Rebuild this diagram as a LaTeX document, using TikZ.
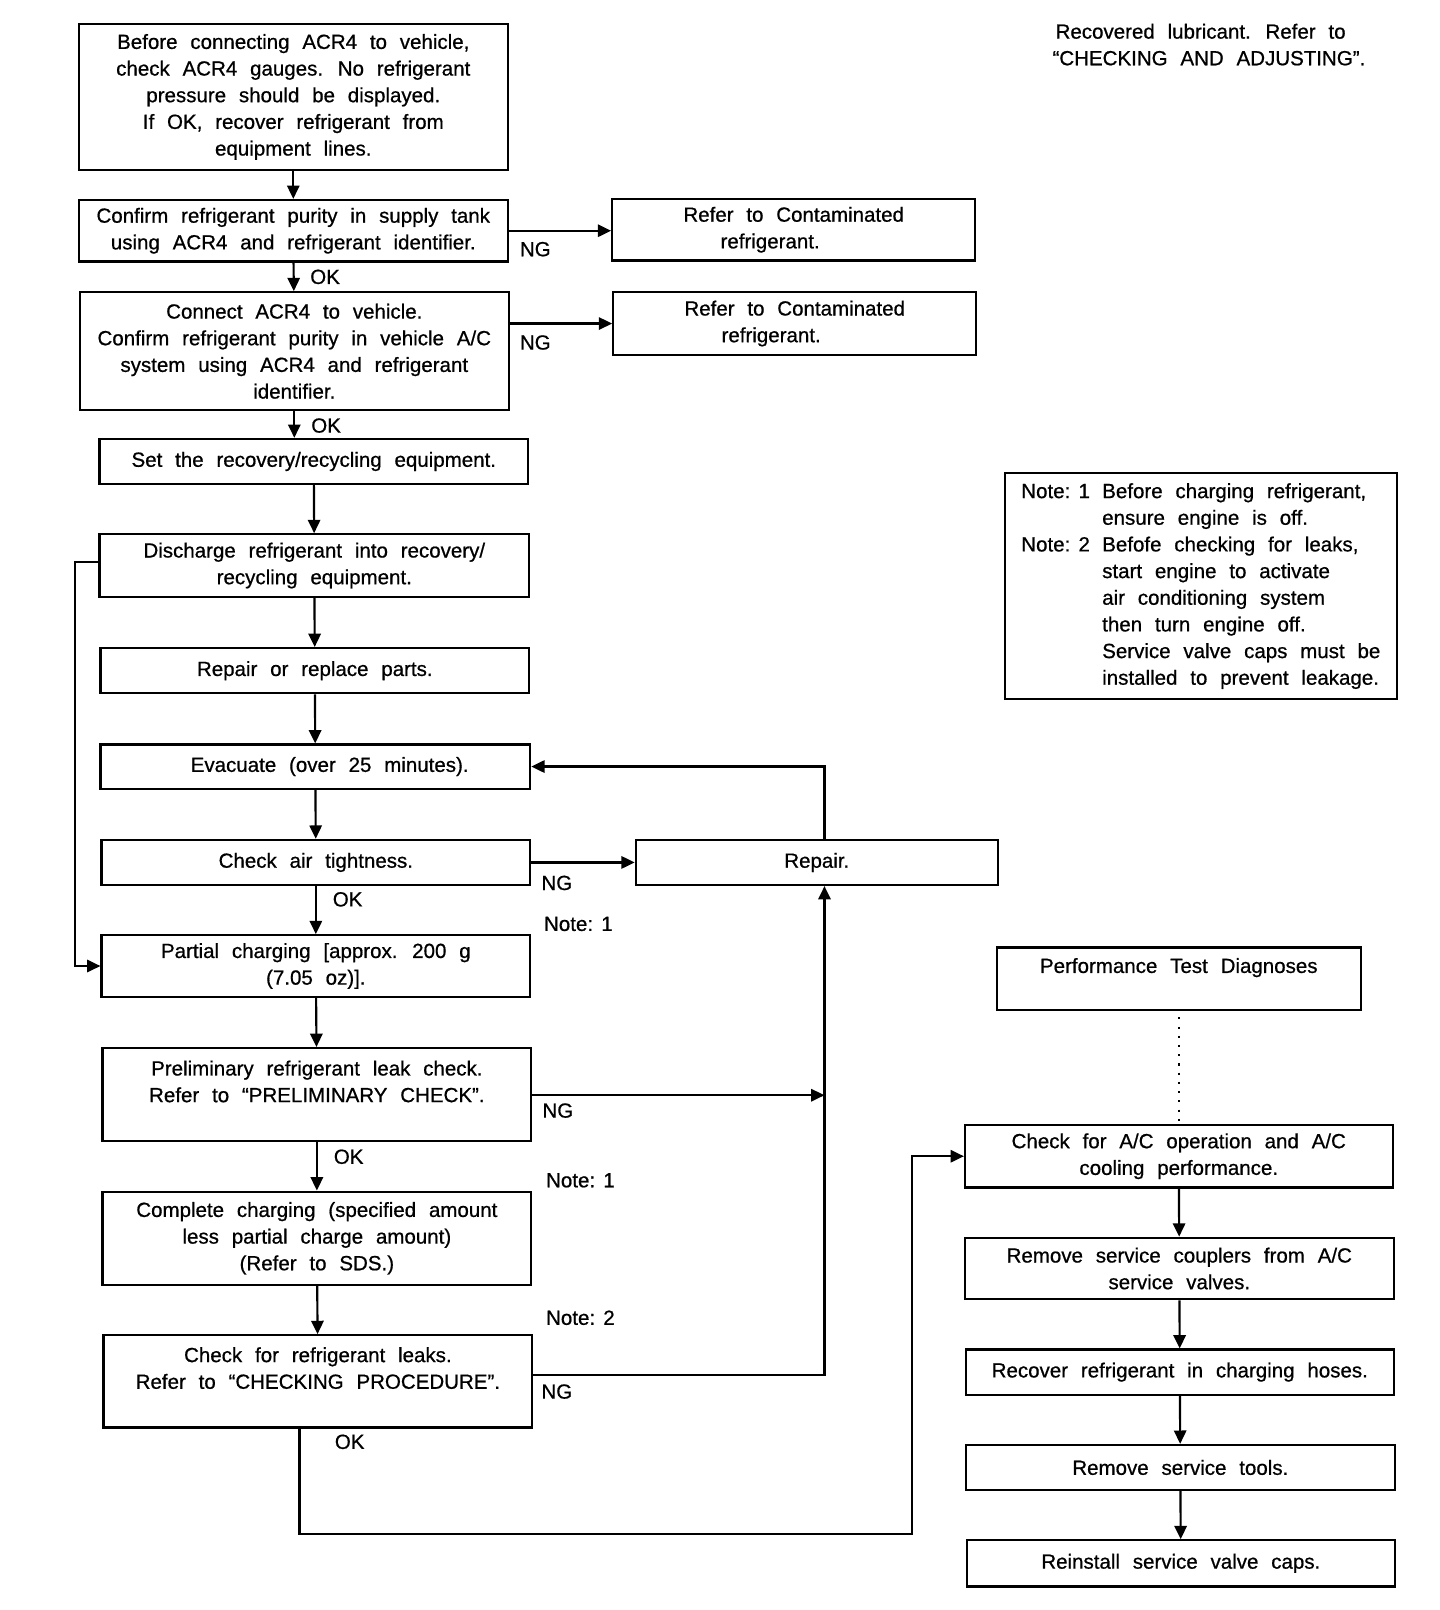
\documentclass[tikz,border=0pt]{standalone}
\usepackage{fontspec}
\setmainfont{Liberation Sans}[WordSpace=2.25,FakeBold=0.7]
\usetikzlibrary{arrows.meta}
\newcommand{\notesp}{\hspace{4pt}}
\begin{document}
\begin{tikzpicture}[x=0.5pt,y=-0.5pt,
 every node/.style={font=\fontsize{10}{13}\selectfont},
 box/.style={draw,line width=1.05pt,align=center,inner sep=0pt},
 arr/.style={line width=1.05pt,-{Triangle[length=6.5pt,width=6pt]}},
 lbl/.style={inner sep=0pt}]
\useasboundingbox (0,0) rectangle (1404,1570);
\fill[white] (0,0) rectangle (1404,1570);

% left column
\node[box,minimum width=209pt,minimum height=71.5pt] (b1) at (286,94.5)
 {Before connecting ACR4 to vehicle,\\check ACR4 gauges. No refrigerant\\pressure should be displayed.\\If OK, recover refrigerant from\\equipment lines.};
\node[box,minimum width=209pt,minimum height=30pt] (b2) at (286,225)
 {Confirm refrigerant purity in supply tank\\using ACR4 and refrigerant identifier.};
\node[box,minimum width=177pt,minimum height=30pt] (c1) at (774,224)
 {Refer to Contaminated\\refrigerant.\makebox[23pt]{}};
\node[box,minimum width=209pt,minimum height=57.5pt] (b3) at (287,342.5)
 {Connect ACR4 to vehicle.\\Confirm refrigerant purity in vehicle A/C\\system using ACR4 and refrigerant\\identifier.};
\node[box,minimum width=177pt,minimum height=30.5pt] (c2) at (775,315.5)
 {Refer to Contaminated\\refrigerant.\makebox[23pt]{}};
\node[box,minimum width=209pt,minimum height=22pt] (b4) at (306,450)
 {Set the recovery/recycling equipment.};
\node[box,minimum width=209.5pt,minimum height=30.5pt] (b5) at (306.5,551.5)
 {Discharge refrigerant into recovery/\\recycling equipment.};
\node[box,minimum width=209pt,minimum height=22pt] (b6) at (307,654)
 {Repair or replace parts.};
\node[box,minimum width=209.5pt,minimum height=21.5pt] (b7) at (307.5,747.5)
 {\makebox[14pt]{}Evacuate (over 25 minutes).};
\node[box,minimum width=209pt,minimum height=22pt] (b8) at (308,841)
 {Check air tightness.};
\node[box,minimum width=176.5pt,minimum height=22pt] (r) at (796.5,841)
 {Repair.};
\node[box,minimum width=209pt,minimum height=30pt] (b9) at (308,942)
 {Partial charging [approx. 200 g\\(7.05 oz)].};
\node[box,minimum width=209pt,minimum height=45.5pt] (b10) at (309,1067.5)
 {Preliminary refrigerant leak check.\\Refer to “PRELIMINARY CHECK”.\\\mbox{}};
\node[box,minimum width=209pt,minimum height=45.5pt] (b11) at (309,1207.5)
 {Complete charging (specified amount\\less partial charge amount)\\(Refer to SDS.)};
\node[box,minimum width=209pt,minimum height=45pt] (b12) at (310,1347)
 {Check for refrigerant leaks.\\Refer to “CHECKING PROCEDURE”.\\\mbox{}};

% right column
\node[box,minimum width=177.5pt,minimum height=30.5pt] (p) at (1149.5,954.5)
 {Performance Test Diagnoses\\\mbox{}};
\node[box,minimum width=208.5pt,minimum height=30.5pt] (b13) at (1149.5,1127.5)
 {Check for A/C operation and A/C\\cooling performance.};
\node[box,minimum width=209pt,minimum height=30pt] (b14) at (1150,1237)
 {Remove service couplers from A/C\\service valves.};
\node[box,minimum width=208.5pt,minimum height=22pt] (b15) at (1150.5,1338)
 {Recover refrigerant in charging hoses.};
\node[box,minimum width=209pt,minimum height=22pt] (b16) at (1151,1431)
 {Remove service tools.};
\node[box,minimum width=208.5pt,minimum height=22.5pt] (b17) at (1151.5,1524.5)
 {Reinstall service valve caps.};

\node[box,minimum width=191pt,minimum height=110.5pt] (n) at (1171,571.5)
 {\begin{tabular}{@{}l@{\hspace{6pt}}l@{}}
 Note:\notesp 1 & Before charging refrigerant,\\
         & ensure engine is off.\\
 Note:\notesp 2 & Befofe checking for leaks,\\
         & start engine to activate\\
         & air conditioning system\\
         & then turn engine off.\\
         & Service valve caps must be\\
         & installed to prevent leakage.
 \end{tabular}};

\node[lbl,anchor=west,align=left] (top) at (1026,43.5)
 {\makebox[1.5pt]{}Recovered lubricant. Refer to\\“CHECKING AND ADJUSTING”.};

% labels
\node[lbl] (ng1) at (522,243) {NG};
\node[lbl] (ng2) at (522,334) {NG};
\node[lbl] (ok1) at (317,270) {OK};
\node[lbl] (ok2) at (318,415) {OK};
\node[lbl] (ng3) at (543,861) {NG};
\node[lbl] (ok3) at (339,877) {OK};
\node[lbl] (nt1) at (564,901) {Note:\notesp 1};
\node[lbl] (ng4) at (544,1083) {NG};
\node[lbl] (ok4) at (340,1128) {OK};
\node[lbl] (nt2) at (566,1151) {Note:\notesp 1};
\node[lbl] (nt3) at (566,1285) {Note:\notesp 2};
\node[lbl] (ng5) at (543,1357) {NG};
\node[lbl] (ok5) at (341,1406) {OK};

% coordinates
\coordinate (rl) at (804,819);
\coordinate (rm) at (804,1068);
\coordinate (rb) at (804,1341);
\coordinate (lp) at (73,548);
\coordinate (okb) at (292,1392);
\coordinate (turn) at (889,1496);

% connectors
\draw[arr] (b1) -- (b2);
\draw[arr] (b2) -- (b3);
\draw[arr] (b2.east) -- (b2.east -| c1.west);
\draw[arr] (b3.east |- c2.west) -- (c2.west);
\draw[arr] (b3.south) -- (b3.south |- b4.north);
\draw[arr] (b4) -- (b5);
\draw[arr] (b5) -- (b6);
\draw[arr] (b6) -- (b7);
\draw[arr] (b7) -- (b8);
\draw[arr] (b8) -- (r);
\draw[arr] (rl) |- (b7.east);
\draw[arr] (b8) -- (b9);
\draw[arr] (b5.west |- lp) -- (lp) |- (b9.west);
\draw[arr] (b9) -- (b10);
\draw[arr] (b10.east |- rm) -- (rm);
\draw[arr] (b10) -- (b11);
\draw[arr] (b11) -- (b12);
\draw[arr] (b12.east |- rb) -- (rb) -- (rb |- r.south);
\draw[arr] (okb) |- (turn) |- (b13.west);
\draw[line width=0.8pt,dash pattern=on 1pt off 3.5pt,shorten <=3pt,shorten >=1pt] (p) -- (b13);
\draw[arr] (b13) -- (b14);
\draw[arr] (b14) -- (b15);
\draw[arr] (b15) -- (b16);
\draw[arr] (b16) -- (b17);
\end{tikzpicture}
\end{document}
